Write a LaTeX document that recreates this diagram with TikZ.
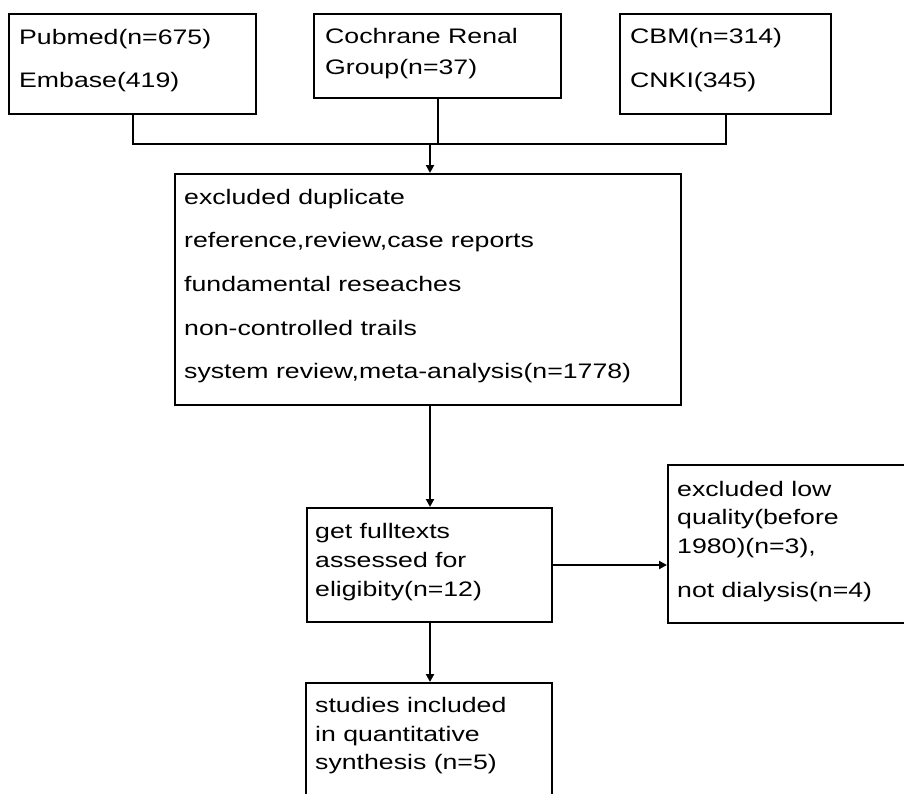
\documentclass[tikz,border=0pt]{standalone}
\usepackage{fontspec}
\setmainfont{Liberation Sans}[FakeStretch=1.27]
\usetikzlibrary{shapes.misc,arrows.meta}
\begin{document}
\begin{tikzpicture}[x=1pt,y=-1pt,
  box/.style={draw, line width=2pt, chamfered rectangle, chamfered rectangle xsep=4.5pt, chamfered rectangle ysep=4.5pt, inner sep=0pt},
  txt/.style={anchor=base west, inner sep=0pt, font=\fontsize{21pt}{25pt}\selectfont},
  conn/.style={line width=2pt},
  arr/.style={conn, -{Triangle[length=8pt,width=8pt]}}]
\useasboundingbox (0,0) rectangle (904,793);
\clip (0,0) rectangle (904,793);
% boxes
\node[box, minimum width=247pt, minimum height=100pt] (b1) at (132.5,64) {};
\node[box, minimum width=247pt, minimum height=84pt] (b2) at (437.5,56) {};
\node[box, minimum width=211pt, minimum height=100pt] (b3) at (725.5,64) {};
\node[box, minimum width=506pt, minimum height=231pt] (b4) at (428,289.5) {};
\node[box, minimum width=245pt, minimum height=114pt] (b5) at (429.5,565) {};
\node[box, minimum width=292pt, minimum height=158pt] (b6) at (814,544) {};
\node[box, minimum width=246pt, minimum height=147pt] (b7) at (429,756.5) {};
% texts
\node[txt] (t1a) at (19,44) {Pubmed(n=675)};
\node[txt] (t1b) at (19,87) {Embase(419)};
\node[txt] (t2a) at (325,43) {Cochrane Renal};
\node[txt] (t2b) at (325,74) {Group(n=37)};
\node[txt] (t3a) at (630,43) {CBM(n=314)};
\node[txt] (t3b) at (630,87) {CNKI(345)};
\node[txt] (t4a) at (184,204) {excluded duplicate};
\node[txt] (t4b) at (184,247) {reference,review,case reports};
\node[txt] (t4c) at (184,291) {fundamental reseaches};
\node[txt] (t4d) at (184,335) {non-controlled trails};
\node[txt] (t4e) at (184,378) {system review,meta-analysis(n=1778)};
\node[txt] (t5a) at (315,538) {get fulltexts};
\node[txt] (t5b) at (315,567) {assessed for};
\node[txt] (t5c) at (315,596) {eligibity(n=12)};
\node[txt] (t6a) at (677,496) {excluded low};
\node[txt] (t6b) at (677,524) {quality(before};
\node[txt] (t6c) at (677,553) {1980)(n=3),};
\node[txt] (t6d) at (677,597) {not dialysis(n=4)};
\node[txt] (t7a) at (315,712) {studies included};
\node[txt] (t7b) at (315,741) {in quantitative};
\node[txt] (t7c) at (315,769) {synthesis (n=5)};
% connectors
\coordinate (j) at (430,144);
\draw[conn] (b1.south) |- (j);
\draw[conn] (b3.south) |- (j);
\draw[conn] (b2.south) -- (b2.south |- j);
\draw[arr] (j) -- (j |- b4.north);
\draw[arr] (j |- b4.south) -- (j |- b5.north);
\draw[arr] (b5.east) -- (b6.west |- b5.east);
\draw[arr] (j |- b5.south) -- (j |- b7.north);
\end{tikzpicture}
\end{document}
